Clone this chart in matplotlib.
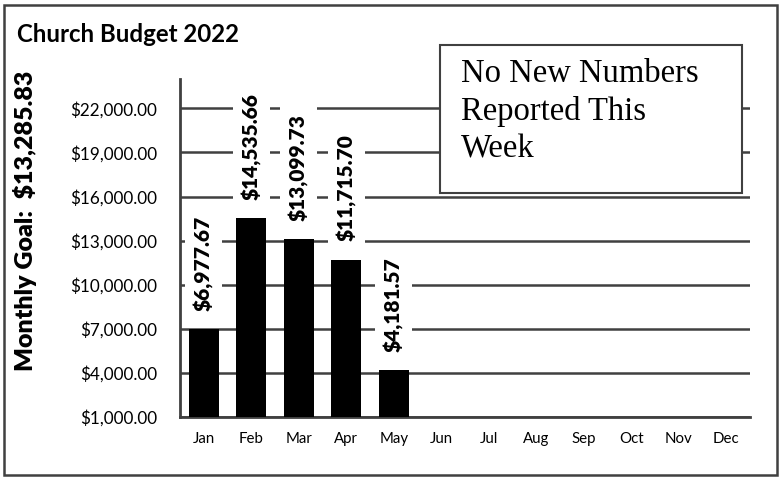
import matplotlib.pyplot as plt
from matplotlib.patches import Rectangle
from matplotlib.ticker import FuncFormatter

# data
months = ["Jan", "Feb", "Mar", "Apr", "May", "Jun",
          "Jul", "Aug", "Sep", "Oct", "Nov", "Dec"]
reported = [6977.67, 14535.66, 13099.73, 11715.70, 4181.57]
y_ticks = [1000, 4000, 7000, 10000, 13000, 16000, 19000, 22000]
monthly_goal = 13285.83
title = "Church Budget 2022"
note = "No New Numbers\nReported This\nWeek"

W, H = 779, 480
fig = plt.figure(figsize=(W / 100, H / 100), dpi=100)
ax = fig.add_axes([180 / W, 1 - 417 / H, 570 / W, 338 / H])

grey = "#404040"
sans = ["Lato", "DejaVu Sans"]

ax.bar(range(len(reported)), reported, width=0.63, color="black", zorder=3)
ax.set_xlim(-0.5, len(months) - 0.5)
ax.set_ylim(1000, 24000)
ax.set_xticks(range(len(months)), months)
ax.set_yticks(y_ticks)
ax.yaxis.set_major_formatter(FuncFormatter(lambda v, p: "${:,.2f}".format(v)))
ax.tick_params(length=0)
ax.tick_params(axis="y", pad=16.5, labelsize=12.3)
ax.tick_params(axis="x", pad=11, labelsize=10.8)
for lab in ax.get_xticklabels() + ax.get_yticklabels():
    lab.set_family(sans)

ax.grid(axis="y", color=grey, linewidth=1.8, zorder=1)
ax.set_axisbelow(True)
for s in ["top", "right"]:
    ax.spines[s].set_visible(False)
for s in ["left", "bottom"]:
    ax.spines[s].set_color(grey)
    ax.spines[s].set_linewidth(2)

# labels above each bar
for i, v in enumerate(reported):
    ax.annotate("${:,.2f}".format(v), (i, v), xytext=(0, 13),
                textcoords="offset points", rotation=90, ha="center",
                va="bottom", fontsize=15, fontweight="heavy", family=sans,
                bbox=dict(facecolor="white", edgecolor="none", pad=6),
                zorder=4)

fig.text(17 / W, 1 - 34 / H, title, fontsize=17.3, fontweight="bold",
         family=sans, va="center", ha="left")
fig.text(25 / W, 1 - 221 / H, "Monthly Goal:  ${:,.2f}".format(monthly_goal),
         rotation=90, fontsize=18, fontweight="heavy", family=sans,
         va="center", ha="center")

# note box
fig.add_artist(Rectangle((440 / W, 1 - 193 / H), 302 / W, 148 / H,
                         transform=fig.transFigure, facecolor="white",
                         edgecolor=grey, linewidth=1.5, zorder=5))
fig.text(461 / W, 1 - 59 / H, note, fontsize=23.5, family="Liberation Serif",
         va="top", ha="left", linespacing=1.29, zorder=6)

# outer frame
fig.add_artist(Rectangle((4 / W, 5 / H), 773 / W, 470 / H,
                         transform=fig.transFigure, facecolor="none",
                         edgecolor=grey, linewidth=1.8, zorder=7))

fig.savefig("out.png", dpi=100)
